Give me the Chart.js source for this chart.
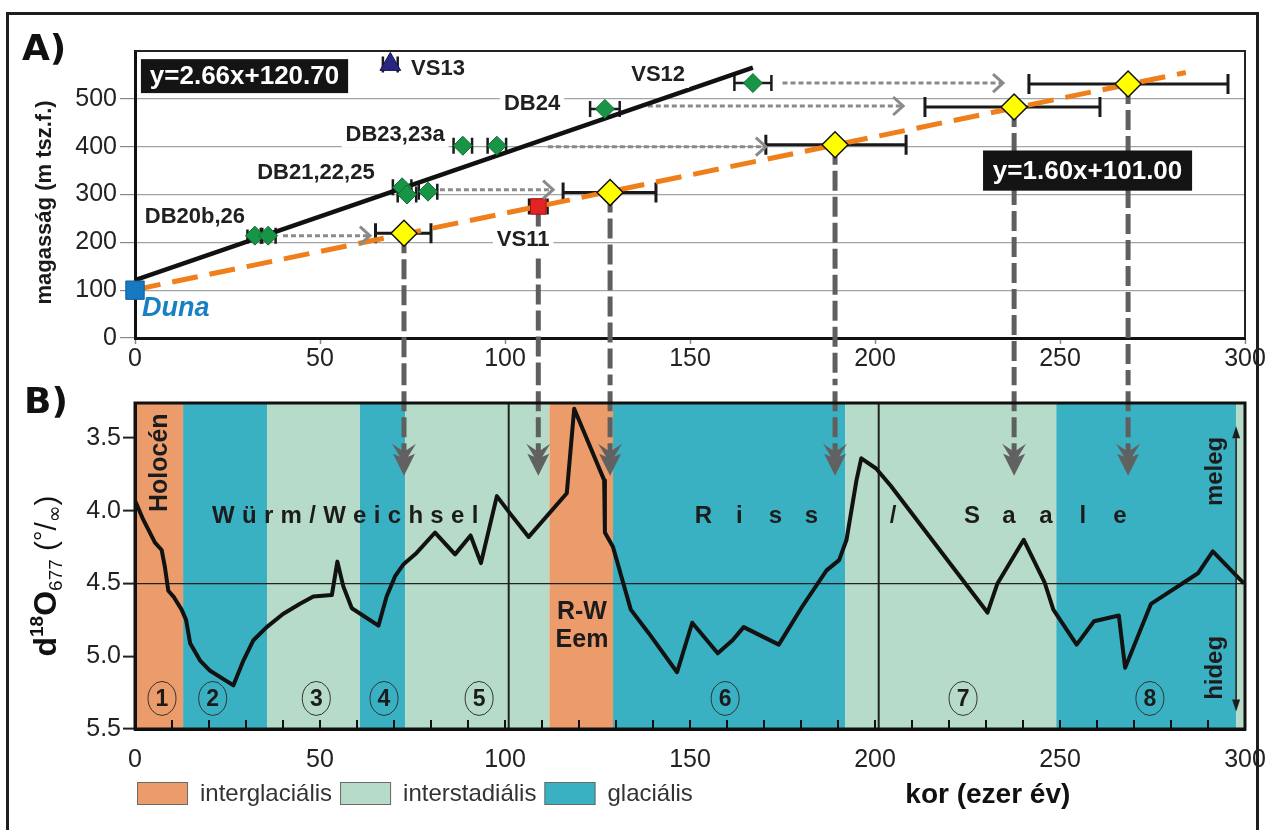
<!DOCTYPE html>
<html>
<head>
<meta charset="utf-8">
<script src="https://cdn.jsdelivr.net/npm/chart.js@4.4.0/dist/chart.umd.min.js"></script>
<style>
  html, body { margin: 0; padding: 0; background: #fff; overflow: hidden; }
  #frame { position: absolute; left: 6px; top: 12px; width: 1253px; height: 900px; border: 3px solid #1e1e1e; box-sizing: border-box; }
  #wrapA { position: absolute; left: 0; top: 0; width: 1276px; height: 380px; }
  #wrapB { position: absolute; left: 0; top: 380px; width: 1276px; height: 450px; }
</style>
</head>
<body>
<div id="frame"></div>
<div id="wrapA"><canvas id="chartA" width="1276" height="380"></canvas></div>
<div id="wrapB"><canvas id="chartB" width="1276" height="450"></canvas></div>
<script>
// ---------- Panel A data (age ka, height m) ----------
const dunaAge = [0];
const dunaHeight = [100];

const greenAge = [32.4, 36, 72.2, 73.5, 79.2, 88.6, 97.8, 127, 167];
const greenHeight = [214, 214, 315, 300, 306, 402, 402, 479, 533];
const greenErr = [2, 2, 2.5, 2.5, 2.5, 2.5, 2.5, 4, 5];

const vs13Age = [69];
const vs13Height = [572];
const vs13Err = [2];
const vs11Age = [109];
const vs11Height = [275];
const vs11Err = [2.5];

const yellowAge = [72.7, 128.4, 189.2, 237.6, 268.4];
const yellowHeight = [219, 304, 404, 483, 531];
const yellowMin = [65, 115.7, 170.5, 213.5, 241.6];
const yellowMax = [80, 140.8, 208.4, 260.8, 295.4];

const fitBlackAge = [0, 167];
const fitBlackHeight = [121, 565];
const fitOrangeAge = [0, 284];
const fitOrangeHeight = [101, 555];

const shiftFrom = [40, 82.4, 111.6, 138.6, 175];
const shiftTo = [63.5, 113, 170.5, 207.6, 234.6];
const shiftHeight = [214, 310, 400, 485, 533];

const dropAge = [72.7, 109, 128.4, 189.2, 237.6, 268.4];
const dropTop = [219, 275, 304, 404, 483, 531];

const labelText = ['VS13', 'VS12', 'DB24', 'DB23,23a', 'DB21,22,25', 'DB20b,26', 'VS11'];
const labelAge = [81.9, 141.4, 107.3, 70.3, 48.9, 16.2, 104.9];
const labelHeight = [562, 550, 490, 425, 346, 254, 204];

const eqText = ['y=2.66x+120.70', 'y=1.60x+101.00'];
const eqAge = [[1.6, 57.6], [229.2, 285.7]];
const eqHeight = [[583, 512], [392, 308]];

// ---------- Panel B data (age ka, d18O) ----------
const curveAge = [0, 2.2, 5.4, 7.2, 8.1, 9, 10.4, 12.6, 13.8, 14.9, 17.6, 20.3, 26.6, 29.3, 32, 35.6, 40, 44.6, 48.2, 53.2,
  54.7, 56.3, 58.6, 65.8, 68, 70.3, 72.5, 76.1, 81.1, 86.5, 90.7, 93.5, 97.8, 101.4, 106.4, 116.7, 118.7, 126.8, 127, 129.2,
  134, 138.8, 146.5, 150.6, 157.5, 161.5, 164.5, 174, 180.3, 186.9, 190.3, 192.3, 195, 196.3, 200.3, 204.3, 230.4, 233.1,
  240.2, 245.8, 248.2, 254.5, 259.2, 265.9, 267.6, 274.6, 287.3, 291.3, 299.7];
const curveD18O = [3.93, 4.06, 4.22, 4.27, 4.39, 4.55, 4.59, 4.68, 4.75, 4.91, 5.03, 5.10, 5.20, 5.03, 4.89, 4.80, 4.71, 4.64, 4.59, 4.58,
  4.35, 4.52, 4.67, 4.79, 4.59, 4.45, 4.37, 4.29, 4.15, 4.30, 4.17, 4.36, 3.90, 4.02, 4.18, 3.88, 3.30, 3.79, 4.15, 4.25,
  4.68, 4.84, 5.11, 4.77, 4.98, 4.89, 4.80, 4.92, 4.66, 4.41, 4.34, 4.20, 3.79, 3.64, 3.71, 3.83, 4.70, 4.50,
  4.20, 4.49, 4.68, 4.92, 4.76, 4.72, 5.08, 4.64, 4.43, 4.28, 4.50];

const bandStart = [0, 13, 35.7, 60.8, 73, 112, 129.2, 192, 249, 297.6];
const bandEnd = [13, 35.7, 60.8, 73, 112, 129.2, 192, 249, 297.6, 300];
const bandType = [0, 2, 1, 2, 1, 0, 2, 1, 2, 1];
const bandNames = ['interglaciális', 'interstadiális', 'glaciális'];

const dividerAge = [101, 201];
const stageNo = ['1', '2', '3', '4', '5', '6', '7', '8'];
const stageAge = [7.3, 21, 49, 67.3, 93, 159.5, 223.8, 274.3];

const yTicksA = [0, 100, 200, 300, 400, 500];
const yTicksB = [3.5, 4.0, 4.5, 5.0, 5.5];

// ---------- styles ----------
const FONT = "'Liberation Sans', Arial, sans-serif";
const NARROW = "'Liberation Sans Narrow', 'Liberation Sans', Arial, sans-serif";
const bandColors = ['#ec9c6b', '#b6dcc9', '#3ab1c3'];
const INK = '#1a1a1a';

const xy = (xs, ys) => xs.map((v, i) => ({ x: v, y: ys[i] }));

function hBar(ctx, x0, x1, yy, cap) {
  ctx.beginPath();
  ctx.moveTo(x0, yy); ctx.lineTo(x1, yy);
  ctx.moveTo(x0, yy - cap); ctx.lineTo(x0, yy + cap);
  ctx.moveTo(x1, yy - cap); ctx.lineTo(x1, yy + cap);
  ctx.stroke();
}

function rotText(ctx, text, px, py, font, color) {
  ctx.save();
  ctx.translate(px, py);
  ctx.rotate(-Math.PI / 2);
  ctx.font = font;
  ctx.fillStyle = color;
  ctx.textAlign = 'center';
  ctx.textBaseline = 'middle';
  ctx.fillText(text, 0, 0);
  ctx.restore();
}

function gapText(ctx, str, cx, cy, gap) {
  const chars = [...str];
  const widths = chars.map(c => ctx.measureText(c).width);
  const total = widths.reduce((a, b) => a + b, 0) + gap * (chars.length - 1);
  let px = cx - total / 2;
  ctx.textAlign = 'left';
  chars.forEach((c, i) => { ctx.fillText(c, px, cy); px += widths[i] + gap; });
}

function pitchText(ctx, str, cx, cy, pitch) {
  const chars = [...str];
  const start = cx - pitch * (chars.length - 1) / 2;
  ctx.textAlign = 'center';
  chars.forEach((c, i) => ctx.fillText(c, start + i * pitch, cy));
}

// ---------- Panel A ----------
const panelA = {
  id: 'panelA',
  beforeDatasetsDraw(chart) {
    const { ctx, scales: { x, y } } = chart;
    ctx.save();
    ctx.strokeStyle = INK;
    ctx.lineWidth = 3;
    yellowAge.forEach((a, i) => hBar(ctx, x.getPixelForValue(yellowMin[i]), x.getPixelForValue(yellowMax[i]), y.getPixelForValue(yellowHeight[i]), 10));
    ctx.lineWidth = 2.5;
    greenAge.forEach((a, i) => hBar(ctx, x.getPixelForValue(a - greenErr[i]), x.getPixelForValue(a + greenErr[i]), y.getPixelForValue(greenHeight[i]), 8));
    hBar(ctx, x.getPixelForValue(vs11Age[0] - vs11Err[0]), x.getPixelForValue(vs11Age[0] + vs11Err[0]), y.getPixelForValue(vs11Height[0]), 8);
    hBar(ctx, x.getPixelForValue(vs13Age[0] - vs13Err[0]), x.getPixelForValue(vs13Age[0] + vs13Err[0]), y.getPixelForValue(vs13Height[0]), 8);
    ctx.restore();
  },
  afterDatasetsDraw(chart) {
    const { ctx, chartArea: ca, scales: { x, y } } = chart;
    ctx.save();
    // arrow heads of the shifts
    ctx.strokeStyle = '#8a8a8a';
    ctx.lineWidth = 3;
    shiftTo.forEach((a, i) => {
      const px = x.getPixelForValue(a), py = y.getPixelForValue(shiftHeight[i]);
      ctx.beginPath();
      ctx.moveTo(px - 10, py - 9); ctx.lineTo(px, py); ctx.lineTo(px - 10, py + 9);
      ctx.stroke();
    });
    // labels
    ctx.font = `bold 22px ${FONT}`;
    ctx.textBaseline = 'middle';
    ctx.textAlign = 'center';
    labelText.forEach((t, i) => {
      const px = x.getPixelForValue(labelAge[i]), py = y.getPixelForValue(labelHeight[i]);
      const w = ctx.measureText(t).width;
      ctx.fillStyle = '#fff';
      ctx.fillRect(px - w / 2 - 4, py - 13, w + 8, 26);
      ctx.fillStyle = '#202020';
      ctx.fillText(t, px, py);
    });
    // Duna
    ctx.font = `italic bold 27px ${FONT}`;
    ctx.fillStyle = '#1a80c4';
    ctx.textAlign = 'left';
    ctx.fillText('Duna', x.getPixelForValue(1.9), y.getPixelForValue(62));
    // equation boxes
    ctx.font = `bold 26px ${FONT}`;
    ctx.textAlign = 'center';
    eqText.forEach((t, i) => {
      const x0 = x.getPixelForValue(eqAge[i][0]), x1 = x.getPixelForValue(eqAge[i][1]);
      const y0 = y.getPixelForValue(eqHeight[i][0]), y1 = y.getPixelForValue(eqHeight[i][1]);
      ctx.fillStyle = '#141414';
      ctx.fillRect(x0, y0, x1 - x0, y1 - y0);
      ctx.fillStyle = '#fff';
      ctx.fillText(t, (x0 + x1) / 2, (y0 + y1) / 2 + 1);
    });
    // top / right frame of the plot
    ctx.strokeStyle = '#222';
    ctx.lineWidth = 2;
    ctx.beginPath();
    ctx.moveTo(ca.left, ca.top); ctx.lineTo(ca.right, ca.top); ctx.lineTo(ca.right, ca.bottom);
    ctx.stroke();
    ctx.restore();
  },
  afterDraw(chart) {
    const { ctx, chartArea: ca } = chart;
    ctx.save();
    ctx.fillStyle = '#111';
    ctx.font = `bold 36px 'DejaVu Sans', ${FONT}`;
    ctx.textAlign = 'left';
    ctx.textBaseline = 'alphabetic';
    ctx.fillText('A)', 22, 60);
    ctx.restore();
    rotText(ctx, 'magasság (m tsz.f.)', 45, (ca.top + ca.bottom) / 2 + 8, `bold 22px ${FONT}`, '#1a1a1a');
  }
};

const markerBase = { showLine: false, clip: false };
const lineBase = { showLine: true, pointRadius: 0, tension: 0 };

const chartA = new Chart(document.getElementById('chartA'), {
  type: 'scatter',
  data: {
    datasets: [
      { ...markerBase, data: xy(dunaAge, dunaHeight), pointStyle: 'rect', pointRadius: 13, backgroundColor: '#1679c2', borderColor: '#0f5f9a', borderWidth: 1 },
      { ...markerBase, data: xy(vs13Age, vs13Height), pointStyle: 'triangle', pointRadius: 12, backgroundColor: '#272781', borderColor: '#161650', borderWidth: 1 },
      { ...markerBase, data: xy(vs11Age, vs11Height), pointStyle: 'rect', pointRadius: 11, backgroundColor: '#e22424', borderColor: '#a31212', borderWidth: 1 },
      { ...markerBase, data: xy(yellowAge, yellowHeight), pointStyle: 'rectRot', pointRadius: 13, backgroundColor: '#ffff00', borderColor: '#111', borderWidth: 1.5 },
      { ...markerBase, data: xy(greenAge, greenHeight), pointStyle: 'rectRot', pointRadius: 9.5, backgroundColor: '#189447', borderColor: '#0f6b31', borderWidth: 1 },
      { ...lineBase, data: xy(fitBlackAge, fitBlackHeight), borderColor: '#111', borderWidth: 4.5 },
      { ...lineBase, data: xy(fitOrangeAge, fitOrangeHeight), borderColor: '#ef7f1a', borderWidth: 5, borderDash: [26, 12] },
      ...shiftFrom.map((a, i) => ({ ...lineBase, data: [{ x: a, y: shiftHeight[i] }, { x: shiftTo[i], y: shiftHeight[i] }], borderColor: '#8a8a8a', borderWidth: 3, borderDash: [5, 3] })),
      ...dropAge.map((a, i) => ({ ...lineBase, clip: false, data: [{ x: a, y: dropTop[i] }, { x: a, y: -110 }], borderColor: '#5f5f5f', borderWidth: 5, borderDash: [20, 6] }))
    ]
  },
  options: {
    responsive: false,
    animation: false,
    events: [],
    layout: { padding: { left: 35, right: 31, top: 51, bottom: 2 } },
    plugins: { legend: { display: false }, tooltip: { enabled: false } },
    scales: {
      x: {
        type: 'linear', min: 0, max: 300,
        afterFit: s => { s.height = 40; },
        ticks: { stepSize: 50, autoSkip: false, maxRotation: 0, padding: 0, color: '#222', font: { family: NARROW, size: 25 } },
        grid: { drawOnChartArea: false, tickLength: 6, tickColor: '#888', tickWidth: 1.5 },
        border: { color: '#111', width: 3 }
      },
      y: {
        type: 'linear', min: 0, max: 600,
        afterFit: s => { s.width = 100; },
        afterBuildTicks: s => { s.ticks = yTicksA.map(v => ({ value: v })); },
        ticks: { padding: 3, color: '#222', font: { family: FONT, size: 25 } },
        grid: { color: '#a4a4a4', lineWidth: 1.2, tickLength: 15, tickColor: '#888', tickWidth: 1.2 },
        border: { color: '#111', width: 3 }
      }
    }
  },
  plugins: [panelA]
});

// ---------- Panel B ----------
const panelB = {
  id: 'panelB',
  beforeDraw(chart) {
    const { ctx, chartArea: ca, scales: { x } } = chart;
    ctx.save();
    bandStart.forEach((s, i) => {
      const x0 = x.getPixelForValue(s), x1 = x.getPixelForValue(bandEnd[i]);
      ctx.fillStyle = bandColors[bandType[i]];
      ctx.fillRect(x0, ca.top, x1 - x0, ca.bottom - ca.top);
    });
    ctx.restore();
  },
  beforeDatasetsDraw(chart) {
    const { ctx, scales: { x, y } } = chart;
    const X = v => x.getPixelForValue(v), Y = v => y.getPixelForValue(v);
    ctx.save();
    ctx.fillStyle = '#1c1c1c';
    ctx.textBaseline = 'middle';
    rotText(ctx, 'Holocén', X(6.8), Y(3.67), `bold 25px ${FONT}`, '#1c1c1c');
    ctx.font = `bold 24px ${FONT}`;
    ctx.fillStyle = '#1c1c1c';
    gapText(ctx, 'Würm/Weichsel', X(56.8), Y(4.04), 7.3);
    pitchText(ctx, 'Riss', X(168.2), Y(4.04), 36);
    pitchText(ctx, '/', X(204.9), Y(4.04), 36);
    pitchText(ctx, 'Saale', X(246.2), Y(4.04), 37);
    ctx.font = `bold 25px ${NARROW}`;
    ctx.textAlign = 'center';
    ctx.fillText('R-W', X(120.8), Y(4.70));
    ctx.fillText('Eem', X(120.8), Y(4.89));
    // stage numbers
    stageNo.forEach((n, i) => {
      const px = X(stageAge[i]), py = Y(5.29);
      ctx.strokeStyle = '#333';
      ctx.lineWidth = 1;
      ctx.beginPath();
      ctx.ellipse(px, py, 14, 17, 0, 0, Math.PI * 2);
      ctx.stroke();
      ctx.font = `bold 23px ${FONT}`;
      ctx.fillStyle = '#1c1c1c';
      ctx.fillText(n, px, py + 1);
    });
    rotText(ctx, 'meleg', X(291.9), Y(3.73), `bold 24px ${FONT}`, '#1c1c1c');
    rotText(ctx, 'hideg', X(291.9), Y(5.08), `bold 24px ${FONT}`, '#1c1c1c');
    ctx.restore();
  },
  afterDatasetsDraw(chart) {
    const { ctx, chartArea: ca, scales: { x, y } } = chart;
    const X = v => x.getPixelForValue(v), Y = v => y.getPixelForValue(v);
    ctx.save();
    // barbed arrow heads of the age transfers
    ctx.fillStyle = '#616161';
    dropAge.forEach(a => {
      const px = X(a), tip = Y(3.76);
      ctx.beginPath();
      ctx.moveTo(px, tip);
      ctx.lineTo(px - 11, tip - 22);
      ctx.lineTo(px - 4, tip - 19);
      ctx.lineTo(px - 12, tip - 32);
      ctx.lineTo(px, tip - 24);
      ctx.lineTo(px + 12, tip - 32);
      ctx.lineTo(px + 4, tip - 19);
      ctx.lineTo(px + 11, tip - 22);
      ctx.closePath();
      ctx.fill();
    });
    // warm / cold double arrow
    const ax = X(297.6), ay0 = Y(3.42), ay1 = Y(5.38);
    ctx.strokeStyle = '#1c1c1c';
    ctx.fillStyle = '#1c1c1c';
    ctx.lineWidth = 1.5;
    ctx.beginPath(); ctx.moveTo(ax, ay0 + 8); ctx.lineTo(ax, ay1 - 8); ctx.stroke();
    ctx.beginPath(); ctx.moveTo(ax, ay0); ctx.lineTo(ax - 4, ay0 + 12); ctx.lineTo(ax + 4, ay0 + 12); ctx.fill();
    ctx.beginPath(); ctx.moveTo(ax, ay1); ctx.lineTo(ax - 4, ay1 - 12); ctx.lineTo(ax + 4, ay1 - 12); ctx.fill();
    // minor ticks inside the bottom axis
    ctx.strokeStyle = '#111';
    ctx.lineWidth = 2;
    for (let v = 0; v <= 300; v += 10) {
      const px = X(v);
      ctx.beginPath(); ctx.moveTo(px, ca.bottom); ctx.lineTo(px, ca.bottom - 9); ctx.stroke();
    }
    // frame
    ctx.lineWidth = 3;
    ctx.strokeRect(ca.left, ca.top, ca.right - ca.left, ca.bottom - ca.top);
    ctx.restore();
  },
  afterDraw(chart) {
    const { ctx, chartArea: ca, scales: { x } } = chart;
    ctx.save();
    ctx.fillStyle = '#111';
    ctx.font = `bold 36px 'DejaVu Sans', ${FONT}`;
    ctx.textAlign = 'left';
    ctx.textBaseline = 'alphabetic';
    ctx.fillText('B)', 24, 33);
    // y axis title with super/subscripts
    const parts = [
      { t: 'd', f: `bold 32px ${FONT}`, dy: 0 },
      { t: '18', f: `bold 19px ${FONT}`, dy: -13 },
      { t: 'O', f: `bold 32px ${FONT}`, dy: 0 },
      { t: '677', f: `19px ${FONT}`, dy: 6 },
      { t: ' (', f: `30px ${FONT}`, dy: 0 },
      { t: '°', f: `26px ${FONT}`, dy: -4 },
      { t: '/', f: `30px ${FONT}`, dy: 0 },
      { t: '∞', f: `20px 'DejaVu Sans', ${FONT}`, dy: 5 },
      { t: ')', f: `30px ${FONT}`, dy: 0 }
    ];
    ctx.save();
    ctx.translate(45, 196);
    ctx.rotate(-Math.PI / 2);
    const widths = parts.map(p => { ctx.font = p.f; return ctx.measureText(p.t).width; });
    let u = -widths.reduce((a, b) => a + b, 0) / 2;
    parts.forEach((p, i) => {
      ctx.font = p.f;
      ctx.fillText(p.t, u, 11 + p.dy);
      u += widths[i];
    });
    ctx.restore();
    // x axis title
    ctx.font = `bold 28px ${FONT}`;
    ctx.textAlign = 'center';
    ctx.textBaseline = 'middle';
    ctx.fillStyle = '#111';
    ctx.fillText('kor (ezer év)', x.getPixelForValue(230.5), ca.bottom + 66);
    // legend
    let lx = ca.left + 2;
    const ly = ca.bottom + 53;
    ctx.font = `24px ${NARROW}`;
    ctx.textAlign = 'left';
    bandNames.forEach((name, i) => {
      ctx.fillStyle = bandColors[i];
      ctx.fillRect(lx, ly, 51, 23);
      ctx.strokeStyle = '#6a6a6a';
      ctx.lineWidth = 1;
      ctx.strokeRect(lx + 0.5, ly + 0.5, 50, 22);
      ctx.fillStyle = '#333';
      ctx.fillText(name, lx + 63, ly + 12);
      lx += 63 + ctx.measureText(name).width + 8;
    });
    ctx.restore();
  }
};

const chartB = new Chart(document.getElementById('chartB'), {
  type: 'scatter',
  data: {
    datasets: [
      { ...lineBase, data: xy(curveAge, curveD18O), borderColor: '#121212', borderWidth: 4, borderJoinStyle: 'round' },
      ...dividerAge.map(a => ({ ...lineBase, data: [{ x: a, y: 3.26 }, { x: a, y: 5.5 }], borderColor: '#222', borderWidth: 2 })),
      ...dropAge.map(a => ({ ...lineBase, clip: false, data: [{ x: a, y: 3.0 }, { x: a, y: 3.66 }], borderColor: '#5f5f5f', borderWidth: 5, borderDash: [20, 6] }))
    ]
  },
  options: {
    responsive: false,
    animation: false,
    events: [],
    layout: { padding: { left: 35, right: 31, top: 23, bottom: 61 } },
    plugins: { legend: { display: false }, tooltip: { enabled: false } },
    scales: {
      x: {
        type: 'linear', min: 0, max: 300,
        afterFit: s => { s.height = 40; },
        ticks: { stepSize: 50, autoSkip: false, maxRotation: 0, padding: 8, color: '#222', font: { family: NARROW, size: 25 } },
        grid: { display: false },
        border: { color: '#111', width: 3 }
      },
      y: {
        type: 'linear', min: 3.26, max: 5.5, reverse: true,
        afterFit: s => { s.width = 100; },
        afterBuildTicks: s => { s.ticks = yTicksB.map(v => ({ value: v })); },
        ticks: { padding: 2, color: '#222', font: { family: FONT, size: 25 }, callback: v => Number(v).toFixed(1) },
        grid: {
          color: c => (c.tick && c.tick.value === 4.5 ? '#222' : 'rgba(0,0,0,0)'),
          lineWidth: 1.2, tickLength: 12, tickColor: '#222', tickWidth: 2
        },
        border: { color: '#111', width: 3 }
      }
    }
  },
  plugins: [panelB]
});
</script>
</body>
</html>
